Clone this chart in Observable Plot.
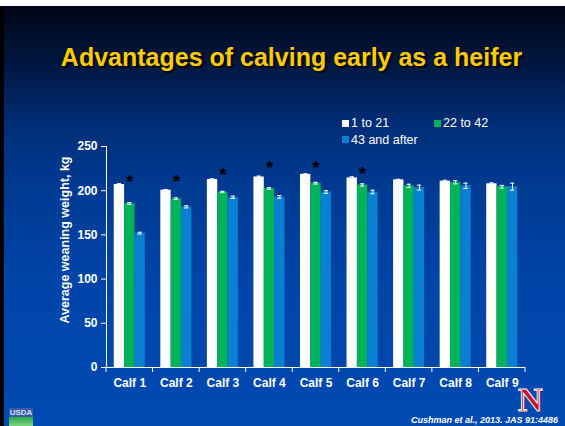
<!DOCTYPE html>
<html><head><meta charset="utf-8">
<script src="https://cdn.jsdelivr.net/npm/d3@7"></script>
<script src="https://cdn.jsdelivr.net/npm/@observablehq/plot@0.6"></script>
<style>
html,body{margin:0;padding:0;background:#fff;}
#root{position:relative;width:565px;height:426px;overflow:hidden;font-family:Arial,"Liberation Sans",sans-serif;}
#bg{position:absolute;left:0;top:6px;width:565px;height:420px;box-sizing:border-box;border-left:4px solid #000;
 background:linear-gradient(to bottom,#000515 0%,#011a48 16%,#00307c 30%,#003b94 45%,#0044a8 65%,#004ab2 100%);}
#title{position:absolute;left:9px;width:565px;top:45px;text-align:center;color:#ffcc00;font-weight:bold;font-size:25px;line-height:1;
 text-shadow:2px 2px 1px rgba(0,0,0,0.9);white-space:nowrap;}
#chart{position:absolute;left:0;top:100px;}
#chart svg text{font-weight:bold;}
#ylabel{position:absolute;left:65px;top:240px;transform:translate(-50%,-50%) rotate(-90deg);color:#fff;font-size:12.5px;line-height:1;font-weight:bold;white-space:nowrap;}
.lg{position:absolute;color:#fff;font-size:12.5px;line-height:1;white-space:nowrap;}
.sw{position:absolute;width:7px;height:7px;}
#cap{position:absolute;right:7px;top:416px;color:#fff;font-size:9px;line-height:1;font-weight:bold;font-style:italic;white-space:nowrap;}
#usda{position:absolute;left:9px;top:408px;width:24px;height:18px;}
#usda .t{position:absolute;left:0;top:0;width:24px;height:9px;color:#cfe0ff;font-size:8px;line-height:9px;font-weight:bold;text-align:center;background:#3a5aa8;}
#usda .g{position:absolute;left:0;top:9px;width:24px;height:9px;background:linear-gradient(to bottom,#2aa84a,#7fd07f);}
#nlogo{position:absolute;left:518px;top:383px;font-family:"Liberation Serif","DejaVu Serif",serif;font-weight:bold;font-size:34px;line-height:1;color:#c8102e;
 -webkit-text-stroke:1px #fff;text-shadow:1px 1px 0 #600;}
</style></head>
<body><div id="root">
<div id="bg"></div>
<div id="title">Advantages of calving early as a heifer</div>
<div id="chart"></div>
<div id="ylabel"></div>
<div id="legend"></div>
<div id="usda"><div class="t">USDA</div><div class="g"></div></div>
<div id="nlogo">N</div>
<div id="cap"></div>
</div>
<script>
const calves = ["Calf 1","Calf 2","Calf 3","Calf 4","Calf 5","Calf 6","Calf 7","Calf 8","Calf 9"];
const groups = ["1 to 21","22 to 42","43 and after"];
const groupColors = ["#ffffff","#00b258","#0a80d2"];
const weight1to21  = [207, 200.6, 212.7, 215.5, 218.5, 214.5, 212.3, 210.8, 207.8];
const weight22to42 = [185.5, 191, 198.5, 202.5, 208.5, 206.5, 205.5, 209.5, 204.5];
const weight43on   = [152, 181.7, 192.5, 193, 198.5, 198.5, 203.5, 205.5, 204.5];
const se1to21  = [1, 0.8, 0.7, 1, 0.6, 1.3, 0.6, 1, 1];
const se22to42 = [1, 1, 0.8, 0.9, 1, 1.3, 1.8, 1.8, 1.5];
const se43on   = [1, 1.2, 1.3, 1.5, 1.5, 2, 2.8, 3, 4];
const starHeight = [215.5, 215.5, 223, 232, 232, 225, null, null, null];
const yTicks = [0, 50, 100, 150, 200, 250];
const yLabel = "Average weaning weight, kg";
const caption = "Cushman et al., 2013. JAS 91:4486";

document.getElementById("ylabel").textContent = yLabel;
document.getElementById("cap").textContent = caption;

const weights = [weight1to21, weight22to42, weight43on];
const ses = [se1to21, se22to42, se43on];
const rows = [];
calves.forEach((c, i) => groups.forEach((g, j) => rows.push({
  calf: c, group: g, value: weights[j][i], se: ses[j][i], star: j === 1 ? starHeight[i] : null
})));

// legend
const legendPos = [{l:342,t:119.5},{l:434,t:119.5},{l:342,t:136}];
const legend = document.getElementById("legend");
groups.forEach((g, j) => {
  const sw = document.createElement("div"); sw.className = "sw";
  sw.style.left = legendPos[j].l + "px"; sw.style.top = legendPos[j].t + "px"; sw.style.background = groupColors[j];
  const tx = document.createElement("div"); tx.className = "lg"; tx.textContent = g;
  tx.style.left = (legendPos[j].l + 9) + "px"; tx.style.top = (legendPos[j].t - 2.5) + "px";
  legend.appendChild(sw); legend.appendChild(tx);
});

const chart = Plot.plot({
  width: 565, height: 326,
  marginLeft: 106, marginRight: 40, marginTop: 46, marginBottom: 59,
  style: {background: "transparent", color: "white", fontSize: "12px", fontFamily: "Arial, 'Liberation Sans', sans-serif"},
  facet: {data: rows, x: "calf"},
  fx: {domain: calves, padding: 0, round: false, axis: "bottom", tickSize: 0, tickPadding: 11, label: null},
  x: {domain: groups, paddingInner: 0, paddingOuter: 0.75, round: false, axis: null},
  y: {domain: [0, 250], ticks: yTicks, tickSize: 5, tickPadding: 4, line: true, label: null},
  color: {domain: groups, range: groupColors},
  marks: [
    Plot.barY(rows, {x: "group", y: "value", fill: "group", insetLeft: 0, insetRight: 0}),
    Plot.ruleX(rows, {x: "group", y1: d => d.value - d.se, y2: d => d.value + d.se, stroke: "white", strokeWidth: 1}),
    Plot.tickY(rows, {x: "group", y: d => d.value - d.se, stroke: "white", insetLeft: 3, insetRight: 3}),
    Plot.tickY(rows, {x: "group", y: d => d.value + d.se, stroke: "white", insetLeft: 3, insetRight: 3}),
    Plot.text(rows, {filter: d => d.star != null, x: "group", y: "star", text: () => "*", fill: "black", fontSize: 19, fontWeight: "bold", dy: 5}),
    Plot.ruleY([0], {stroke: "white"})
  ]
});
document.getElementById("chart").appendChild(chart);

// tick marks at category boundaries on the bottom axis
const fxS = chart.scale("fx"), yS = chart.scale("y");
const y0 = yS.apply(0);
const bounds = calves.map(c => fxS.apply(c)).concat([fxS.apply(calves[calves.length - 1]) + fxS.bandwidth]);
d3.select(chart).append("g").attr("stroke", "white")
  .selectAll("line").data(bounds).join("line")
  .attr("x1", d => d).attr("x2", d => d).attr("y1", y0).attr("y2", y0 + 5);
</script>
</body></html>
